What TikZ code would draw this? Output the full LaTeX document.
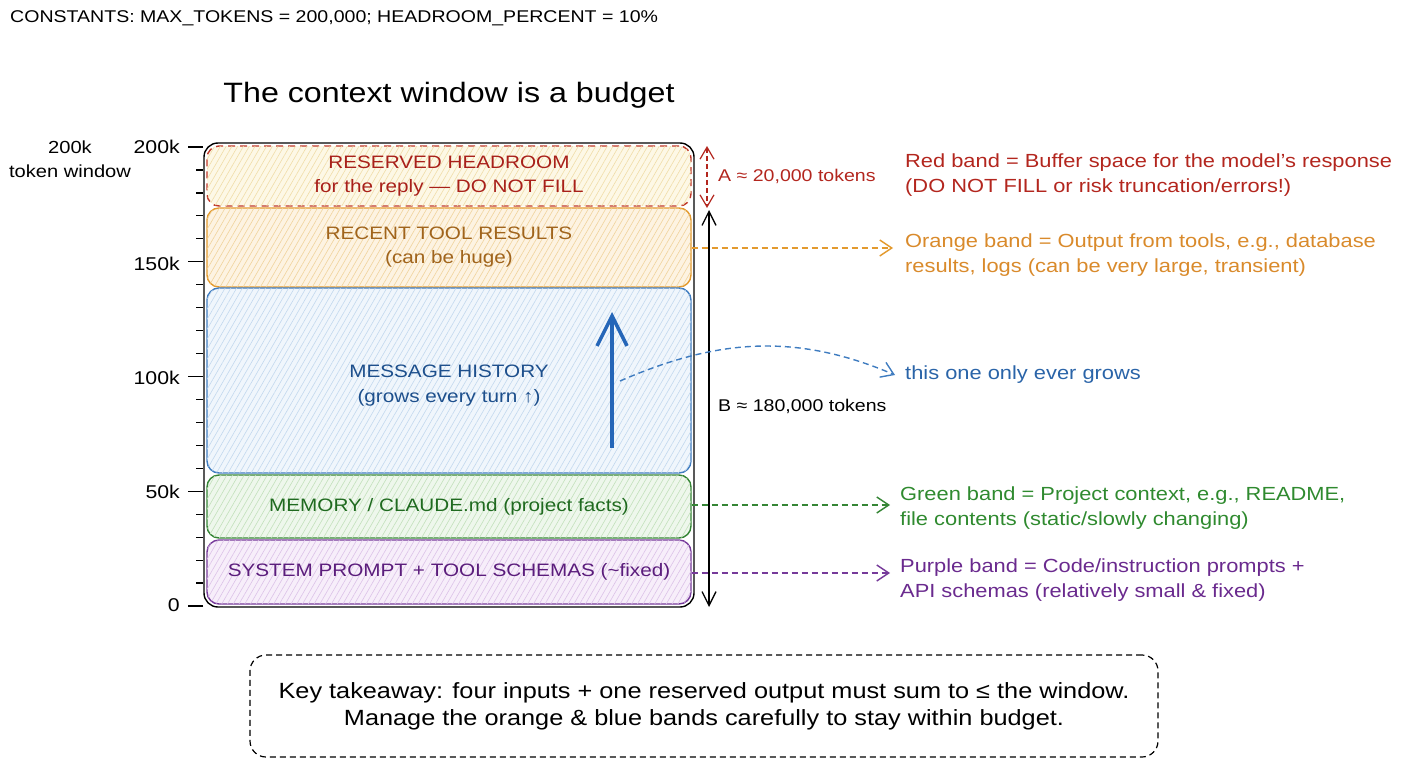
\documentclass[tikz,border=0pt]{standalone}
\usepackage{fontspec}
\setmainfont[FakeStretch=1.15]{Liberation Sans}
\usetikzlibrary{arrows.meta,patterns.meta,calc}
\definecolor{cRedB}{HTML}{C0392B}
\definecolor{cRedT}{HTML}{A8201A}
\definecolor{cRedN}{HTML}{B3261E}
\definecolor{cRedF}{HTML}{FDF8E6}
\definecolor{cRedH}{HTML}{F0DDA8}
\definecolor{cOrB}{HTML}{E39A2E}
\definecolor{cOrT}{HTML}{A0641C}
\definecolor{cOrN}{HTML}{D98A2B}
\definecolor{cOrF}{HTML}{FDF3E2}
\definecolor{cOrH}{HTML}{F0D39C}
\definecolor{cBlB}{HTML}{3F7CC0}
\definecolor{cBlT}{HTML}{1D4F8C}
\definecolor{cBlN}{HTML}{2A64A8}
\definecolor{cBlF}{HTML}{F0F6FC}
\definecolor{cBlH}{HTML}{C2D8EE}
\definecolor{cBlA}{HTML}{2566B8}
\definecolor{cGrB}{HTML}{358535}
\definecolor{cGrT}{HTML}{1F6A1F}
\definecolor{cGrN}{HTML}{2F8A2F}
\definecolor{cGrF}{HTML}{EEF7EC}
\definecolor{cGrH}{HTML}{C2E0BB}
\definecolor{cPuB}{HTML}{763A9A}
\definecolor{cPuT}{HTML}{5B1D7C}
\definecolor{cPuN}{HTML}{6A2A8E}
\definecolor{cPuF}{HTML}{F7EEFA}
\definecolor{cPuH}{HTML}{DCC2E8}
\begin{document}
\begin{tikzpicture}[x=1pt,y=-1pt,
  band/.style={rectangle, rounded corners=12pt, minimum width=484pt, line width=1.4pt,
    align=center, inner sep=0pt, font=\fontsize{18}{24}\selectfont},
  hatch/.style={postaction={pattern={Lines[angle=60,distance=5pt,line width=0.6pt]}, pattern color=#1}},
  note/.style={anchor=west, align=left, inner sep=0pt, font=\fontsize{19}{25}\selectfont},
  tip/.style={-{Straight Barb[length=12pt,width=16pt]}},
  conn/.style={dash pattern=on 6pt off 4pt, line width=1.4pt, tip},
  ticklab/.style={anchor=east, inner sep=0pt, font=\fontsize{18.5}{20}\selectfont},
  dimlab/.style={anchor=west, inner sep=0pt, font=\fontsize{17}{20}\selectfont}
]
\useasboundingbox (0,0) rectangle (1408,768);

% header and title
\node[anchor=west, inner sep=0pt, font=\fontsize{17}{20}\selectfont] (const) at (10,18)
  {CONSTANTS: MAX\_TOKENS = 200,000; HEADROOM\_PERCENT = 10\%};
\node[inner sep=0pt, font=\fontsize{28}{32}\selectfont] (title) at (449,95) {The context window is a budget};

% frame
\node[draw, line width=1.4pt, rounded corners=14pt, minimum width=490pt, minimum height=464pt, inner sep=0pt] (frame) at (449,375) {};

% axis ticks
\foreach \i in {0,...,20} {
  \draw[line width=1.2pt] (203,{606-\i*22.95}) -- ++(-7,0);
}
\foreach \i in {0,5,10,15,20} {
  \draw[line width=1.2pt] (203,{606-\i*22.95}) -- ++(-15,0);
}
\node[ticklab] (t200) at (180,147) {200k};
\node[ticklab] (t150) at (180,264) {150k};
\node[ticklab] (t100) at (180,378) {100k};
\node[ticklab] (t50) at (180,492) {50k};
\node[ticklab] (t0) at (180,605) {0};
\node[align=center, inner sep=0pt, font=\fontsize{17.5}{24}\selectfont] (winlab) at (70,159) {200k\\token window};

% bands
\node[band, draw=cRedB, dash pattern=on 7pt off 5pt, fill=cRedF, hatch=cRedH, text=cRedT, minimum height=60pt]
  (red) at (449,176) {RESERVED HEADROOM\\for the reply — DO NOT FILL};
\node[band, draw=cOrB, fill=cOrF, hatch=cOrH, text=cOrT, minimum height=79pt]
  (orange) at (449,247.5) {RECENT TOOL RESULTS\\(can be huge)};
\node[band, draw=cBlB, fill=cBlF, hatch=cBlH, text=cBlT, minimum height=185pt]
  (blue) at (449,380.5) {};
\node[text=cBlT, align=center, inner sep=0pt, font=\fontsize{18}{25}\selectfont] (bluetxt) at (449,385.5)
  {MESSAGE HISTORY\\(grows every turn ↑)};
\node[band, draw=cGrB, fill=cGrF, hatch=cGrH, text=cGrT, minimum height=63pt]
  (green) at (449,506.5) {MEMORY / CLAUDE.md (project facts)};
\node[band, draw=cPuB, fill=cPuF, hatch=cPuH, text=cPuT, minimum height=64pt]
  (purple) at (449,572) {SYSTEM PROMPT + TOOL SCHEMAS (\textasciitilde fixed)};

% big growth arrow
\coordinate (gBot) at (612,448);
\coordinate (gTop) at (612,312);
\draw[cBlA, line width=3.5pt, -{Straight Barb[length=30pt,width=30pt,line width=3.5pt]}] (gBot) -- (gTop);

% dimension arrows
\coordinate (aTop) at (707,146);
\coordinate (aBot) at (707,208);
\draw[cRedN, line width=1.2pt, dash pattern=on 5pt off 3pt,
  {Straight Barb[length=12pt,width=14pt]}-{Straight Barb[length=12pt,width=14pt]}] (aTop) -- (aBot);
\node[dimlab, text=cRedN] (alab) at (718,176) {A ≈ 20,000 tokens};
\coordinate (bTop) at (709,210);
\coordinate (bBot) at (709,607);
\draw[line width=1.3pt,
  {Straight Barb[length=14pt,width=14pt]}-{Straight Barb[length=14pt,width=14pt]}] (bTop) -- (bBot);
\node[dimlab] (blab) at (718,406) {B ≈ 180,000 tokens};

% notes
\node[note, text=cRedN] (rnote) at (905,175.5)
  {Red band = Buffer space for the model’s response\\(DO NOT FILL or risk truncation/errors!)};
\node[note, text=cOrN] (onote) at (905,255.5)
  {Orange band = Output from tools, e.g., database\\results, logs (can be very large, transient)};
\node[note, text=cBlN] (bnote) at (905,375) {this one only ever grows};
\node[note, text=cGrN] (gnote) at (900,508)
  {Green band = Project context, e.g., README,\\file contents (static/slowly changing)};
\node[note, text=cPuN] (pnote) at (900,580)
  {Purple band = Code/instruction prompts +\\API schemas (relatively small \& fixed)};

% connectors
\draw[conn, draw=cOrB] (orange.east |- 0,248) -- ($(onote.west |- 0,248)+(-12,0)$);
\draw[conn, draw=cGrB] (green.east |- 0,505) -- ($(gnote.west |- 0,505)+(-10,0)$);
\draw[conn, draw=cPuB] (purple.east |- 0,573) -- ($(pnote.west |- 0,573)+(-10,0)$);
\coordinate (cStart) at (620,381);
\draw[conn, draw=cBlB] (cStart) .. controls (710,342) and (790,330) .. ($(bnote.west)+(-10,0)$);

% takeaway
\node[draw, line width=1.2pt, dash pattern=on 6pt off 4pt, rounded corners=16pt, minimum width=908pt,
  minimum height=102pt, align=center, inner sep=0pt, font=\fontsize{22}{27}\selectfont] (take) at (704,706)
  {Key takeaway: four inputs + one reserved output must sum to ≤ the window.\\
   Manage the orange \& blue bands carefully to stay within budget.};
\end{tikzpicture}
\end{document}
